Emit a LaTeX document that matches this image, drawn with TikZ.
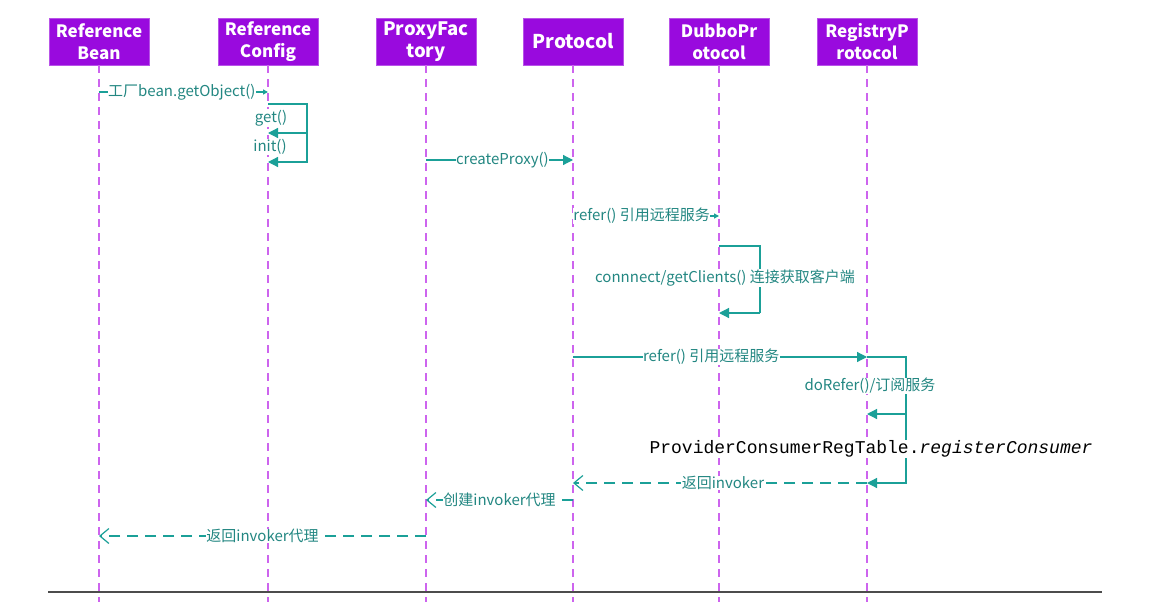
\documentclass[tikz,border=0pt]{standalone}
\usepackage{fontspec}
\newfontfamily\cjk{Noto Sans CJK SC}
\newfontfamily\mono{Liberation Mono}
\usetikzlibrary{arrows.meta}
\definecolor{boxpurple}{RGB}{153,10,222}
\definecolor{lifepurple}{RGB}{205,100,238}
\definecolor{teal1}{RGB}{27,160,152}
\definecolor{tealtxt}{RGB}{35,135,130}
\tikzset{
  x=1pt, y=-1pt,
  actor/.style={fill=boxpurple, draw=boxpurple!70!white, line width=0.6pt, minimum width=100pt, minimum height=47pt,
    text=white, font=\cjk\bfseries\fontsize{17}{22}\selectfont, align=center, inner sep=1pt},
  lifeline/.style={draw=lifepurple, line width=1.8pt, dash pattern=on 8pt off 6pt},
  msg/.style={draw=teal1, line width=1.2pt},
  callarrow/.style={-{Triangle[length=10pt,width=10pt]}},
  smallarrow/.style={-{Triangle[length=5pt,width=5pt]}},
  retarrow/.style={draw=teal1, line width=1.2pt, dash pattern=on 11pt off 7pt, -{Straight Barb[length=9pt,width=15pt,line width=1.2pt]}},
  lbl/.style={fill=white, inner sep=0.5pt, text=tealtxt, font=\cjk\fontsize{15}{16}\selectfont},
  monolbl/.style={fill=white, inner sep=1pt, text=black, font=\mono\fontsize{18}{20}\selectfont},
}
\begin{document}
\begin{tikzpicture}
\useasboundingbox (0,0) rectangle (1167,602);
\fill[white] (0,0) rectangle (1167,602);

% actors
\node[actor] (rb) at (99,41.5) {Reference\\Bean};
\node[actor] (rc) at (268,41.5) {Reference\\Config};
\node[actor, font=\cjk\bfseries\fontsize{18.5}{22}\selectfont] (pf) at (426,41.5) {ProxyFac\\tory};
\node[actor, font=\cjk\bfseries\fontsize{19}{22}\selectfont] (pr) at (573,41.5) {Protocol};
\node[actor] (dp) at (719,41.5) {DubboPr\\otocol};
\node[actor] (rp) at (867,41.5) {RegistryP\\rotocol};

% lifelines
\foreach \n in {rb,rc,pf,pr,dp,rp}{
  \draw[lifeline] (\n.south) -- ++(0,537);
}

% bottom rule
\coordinate (ruleL) at (48,592);
\coordinate (ruleR) at (1102,592);
\draw[draw=black!70, line width=1.6pt] (ruleL) -- (ruleR);

% message anchor points
\coordinate (rb92) at (99,92);   \coordinate (rc92) at (268,92);
\coordinate (rc104) at (268,104); \coordinate (rc133) at (268,133); \coordinate (rc162) at (268,162);
\coordinate (pf160) at (426,160); \coordinate (pr160) at (573,160);
\coordinate (pr216) at (573,216); \coordinate (dp216) at (719,216);
\coordinate (dp246) at (719,246); \coordinate (dp313) at (719,313);
\coordinate (pr357) at (573,357); \coordinate (rp357) at (867,357);
\coordinate (rp414) at (867,414); \coordinate (rp483) at (867,483);
\coordinate (pr483) at (573,483);
\coordinate (pr500) at (573,500); \coordinate (pf500) at (426,500);
\coordinate (pf536) at (426,536); \coordinate (rb536) at (99,536);

% 1 getObject
\draw[msg, smallarrow] (rb92) -- node[lbl, pos=0.49] (l1) {工厂bean.getObject()} (rc92);
% self calls on ReferenceConfig
\draw[msg] (rc104) -- ++(39,0) coordinate (rcA) -- (rcA |- rc133) coordinate (rcB);
\draw[msg, callarrow] (rcB) -- (rc133);
\draw[msg, callarrow] (rcB) -- (rcB |- rc162) -- (rc162);
\node[lbl] (lget) at (271,118) {get()};
\node[lbl] (linit) at (270,147) {init()};

% createProxy
\draw[msg, callarrow] (pf160) -- node[lbl, pos=0.52] (l3) {createProxy()} (pr160);

% refer to Dubbo
\draw[msg, smallarrow] (pr216) -- node[lbl, pos=0.47] (l4) {refer() 引用远程服务} (dp216);

% self call DubboProtocol
\draw[msg] (dp246) -- ++(41,0) coordinate (dpA) -- (dpA |- dp313) coordinate (dpB);
\draw[msg, callarrow] (dpB) -- (dp313);
\node[lbl] (l5) at (725,278) {connnect/getClients() 连接获取客户端};

% refer to Registry
\draw[msg, callarrow] (pr357) -- node[lbl, pos=0.47] (l6) {refer() 引用远程服务} (rp357);

% self call RegistryProtocol
\draw[msg] (rp357) -- ++(39,0) coordinate (rpA) -- (rpA |- rp414) coordinate (rpB);
\draw[msg, callarrow] (rpB) -- (rp414);
\draw[msg, callarrow] (rpB) -- (rpB |- rp483) -- (rp483);
\node[lbl] (l7) at (870,386) {doRefer()/订阅服务};
\node[monolbl] (l8) at (871,449) {ProviderConsumerRegTable.\textit{registerConsumer}};

% returns
\draw[retarrow] (rp483) -- node[lbl, pos=0.49] (r1) {返回invoker} (pr483);
\draw[retarrow] (pr500) -- node[lbl, pos=0.5] (r2) {创建invoker代理} (pf500);
\draw[retarrow] (pf536) -- node[lbl, pos=0.5] (r3) {返回invoker代理} (rb536);
\end{tikzpicture}
\end{document}
